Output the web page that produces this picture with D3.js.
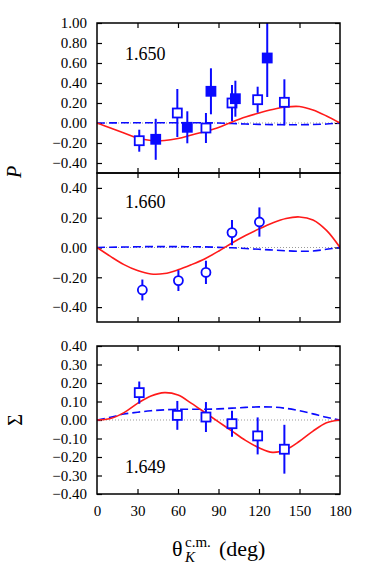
<!DOCTYPE html>
<html>
<head>
<meta charset="utf-8">
<title>P and Sigma</title>
<script src="https://cdn.jsdelivr.net/npm/d3@7"></script>
<style>
body { margin: 0; background: #fff; }
text { font-family: "Liberation Serif", "Times New Roman", Times, serif; fill: #000; }
</style>
</head>
<body>
<script>
// ---- data ----
var xTicks = [0, 30, 60, 90, 120, 150, 180];
var curveTheta = [0, 10, 20, 30, 40, 50, 60, 70, 80, 90, 100, 110, 120, 130, 140, 150, 160, 170, 180];

// top panel, P at 1.650
var topTicks = [-0.4, -0.2, 0, 0.2, 0.4, 0.6, 0.8, 1.0];
var topSolid = [0, -0.05, -0.10, -0.15, -0.175, -0.175, -0.155, -0.12, -0.085, -0.045, 0.01, 0.06, 0.10, 0.135, 0.16, 0.165, 0.13, 0.07, 0];
var topDashed = [0, 0.001, 0.002, 0.003, 0.003, 0.003, 0.003, 0.002, 0.002, 0, -0.005, -0.01, -0.014, -0.016, -0.017, -0.017, -0.015, -0.01, 0];
var topOpenTheta = [31.3, 59.5, 80.7, 100, 119, 138.8];
var topOpenVal = [-0.177, 0.10, -0.05, 0.20, 0.233, 0.207];
var topOpenErr = [0.11, 0.24, 0.15, 0.18, 0.13, 0.23];
var topFillTheta = [43.5, 66.9, 84.4, 102.5, 126.1];
var topFillVal = [-0.163, -0.043, 0.317, 0.243, 0.65];
var topFillErr = [0.205, 0.16, 0.23, 0.18, 0.39];

// middle panel, P at 1.660
var midTicks = [-0.4, -0.2, 0, 0.2, 0.4];
var midSolid = [0, -0.06, -0.115, -0.155, -0.178, -0.175, -0.15, -0.115, -0.075, -0.025, 0.03, 0.08, 0.125, 0.165, 0.195, 0.205, 0.185, 0.115, 0];
var midDashed = [0, 0.002, 0.003, 0.005, 0.006, 0.006, 0.006, 0.005, 0.004, 0.001, -0.002, -0.007, -0.012, -0.017, -0.022, -0.025, -0.024, -0.012, 0];
var midTheta = [33.6, 60.3, 80.7, 100, 120.3];
var midVal = [-0.285, -0.222, -0.167, 0.10, 0.171];
var midErr = [0.07, 0.07, 0.078, 0.085, 0.098];

// bottom panel, Sigma at 1.649
var botTicks = [-0.4, -0.3, -0.2, -0.1, 0, 0.1, 0.2, 0.3, 0.4];
var botSolid = [0, 0.008, 0.04, 0.09, 0.13, 0.148, 0.135, 0.09, 0.04, -0.01, -0.06, -0.11, -0.15, -0.175, -0.16, -0.115, -0.06, -0.015, 0];
var botDashed = [0, 0.015, 0.032, 0.042, 0.05, 0.055, 0.058, 0.058, 0.058, 0.06, 0.064, 0.068, 0.071, 0.07, 0.063, 0.05, 0.033, 0.015, 0];
var botTheta = [31.3, 59.5, 80.7, 100, 119, 138.8];
var botVal = [0.148, 0.025, 0.016, -0.02, -0.086, -0.158];
var botErr = [0.06, 0.078, 0.081, 0.07, 0.10, 0.132];

// ---- drawing ----
var w = 382, h = 565;
var blue = "#0a0aff", red = "#ff1a1a";
var serif = "'Liberation Serif', 'Times New Roman', Times, serif";
var svg = d3.select("body").append("svg").attr("width", w).attr("height", h);

var x = d3.scaleLinear().domain([0, 180]).range([97, 340]);
var fmt = d3.format(".2f");
var none = function() { return ""; };

function zip(a, b, c) {
	return a.map(function(d, i) { return {t: d, v: b[i], e: c ? c[i] : 0}; });
}

function panel(id, top, bottom, domain, ticks, label, labelY, showX) {
	var y = d3.scaleLinear().domain(domain).range([bottom, top]);
	var g = svg.append("g");

	svg.append("clipPath").attr("id", id)
		.append("rect").attr("x", x(0)).attr("y", top).attr("width", x(180) - x(0)).attr("height", bottom - top);

	var la = g.append("g").attr("transform", "translate(" + x(0) + ",0)")
		.call(d3.axisLeft(y).tickValues(ticks).tickSize(-5).tickPadding(10).tickFormat(fmt));
	var ra = g.append("g").attr("transform", "translate(" + x(180) + ",0)")
		.call(d3.axisRight(y).tickValues(ticks).tickSize(-5).tickFormat(none));
	var ta = g.append("g").attr("transform", "translate(0," + top + ")")
		.call(d3.axisTop(x).tickValues(xTicks.slice(1, -1)).tickSize(-5).tickFormat(none));
	var ba = g.append("g").attr("transform", "translate(0," + bottom + ")")
		.call(d3.axisBottom(x).tickValues(showX ? xTicks : xTicks.slice(1, -1)).tickSize(-5).tickPadding(11)
			.tickFormat(showX ? d3.format("d") : none));
	if (showX) {
		ba.selectAll(".tick line").filter(function(d) { return d == 0 || d == 180; }).remove();
	}
	[la, ra, ta, ba].forEach(function(a) {
		a.attr("font-family", null);
		a.select(".domain").remove();
		a.selectAll(".tick line").attr("stroke", "#000").attr("stroke-width", 1.2);
		a.selectAll("text").style("font-family", serif).style("font-size", "15px").attr("fill", "#000");
	});

	var plot = g.append("g").attr("clip-path", "url(#" + id + ")");
	plot.append("line")
		.attr("x1", x(0)).attr("x2", x(180)).attr("y1", y(0)).attr("y2", y(0))
		.attr("stroke", "#999").attr("stroke-width", 1).attr("stroke-dasharray", "1,2");

	g.append("rect").attr("x", x(0)).attr("y", top).attr("width", x(180) - x(0)).attr("height", bottom - top)
		.attr("fill", "none").attr("stroke", "#000").attr("stroke-width", 1.5);

	g.append("text").attr("x", 125).attr("y", labelY).style("font-family", serif).style("font-size", "18px").text(label);

	return {y: y, plot: plot};
}

function curves(p, solid, dashed) {
	var line = d3.line().x(function(d, i) { return x(curveTheta[i]); }).y(function(d) { return p.y(d); }).curve(d3.curveCatmullRom);
	p.plot.append("path").attr("d", line(dashed)).attr("fill", "none")
		.attr("stroke", blue).attr("stroke-width", 1.6).attr("stroke-dasharray", "8,4");
	p.plot.append("path").attr("d", line(solid)).attr("fill", "none")
		.attr("stroke", red).attr("stroke-width", 1.6);
}

function errbars(p, pts) {
	p.plot.selectAll(null).data(pts).enter().append("line")
		.attr("x1", function(d) { return x(d.t); }).attr("x2", function(d) { return x(d.t); })
		.attr("y1", function(d) { return p.y(d.v - d.e); }).attr("y2", function(d) { return p.y(d.v + d.e); })
		.attr("stroke", blue).attr("stroke-width", 2);
}

function squares(p, pts, filled) {
	errbars(p, pts);
	p.plot.selectAll(null).data(pts).enter().append("rect")
		.attr("x", function(d) { return x(d.t) - 4.5; }).attr("y", function(d) { return p.y(d.v) - 4.5; })
		.attr("width", 9).attr("height", 9)
		.attr("fill", filled ? blue : "#fff").attr("stroke", blue).attr("stroke-width", 1.8);
}

function circles(p, pts) {
	errbars(p, pts);
	p.plot.selectAll(null).data(pts).enter().append("circle")
		.attr("cx", function(d) { return x(d.t); }).attr("cy", function(d) { return p.y(d.v); })
		.attr("r", 4.5).attr("fill", "#fff").attr("stroke", blue).attr("stroke-width", 1.8);
}

var p1 = panel("c1", 23, 173, [-0.5, 1.0], topTicks, "1.650", 60, false);
curves(p1, topSolid, topDashed);
squares(p1, zip(topOpenTheta, topOpenVal, topOpenErr), false);
squares(p1, zip(topFillTheta, topFillVal, topFillErr), true);

var p2 = panel("c2", 173, 322, [-0.5, 0.5], midTicks, "1.660", 208, false);
curves(p2, midSolid, midDashed);
circles(p2, zip(midTheta, midVal, midErr));

var p3 = panel("c3", 346, 494, [-0.4, 0.4], botTicks, "1.649", 473, true);
curves(p3, botSolid, botDashed);
squares(p3, zip(botTheta, botVal, botErr), false);

// axis titles
svg.append("text").attr("transform", "translate(21,172) rotate(-90)")
	.attr("text-anchor", "middle").style("font-family", serif).style("font-size", "20px").style("font-style", "italic").text("P");
svg.append("text").attr("transform", "translate(22,420) rotate(-90)")
	.attr("text-anchor", "middle").style("font-family", serif).style("font-size", "20px").text("Σ");

var title = svg.append("g").style("font-family", serif);
title.append("text").attr("x", 172).attr("y", 556).style("font-size", "22px").text("θ");
title.append("text").attr("x", 185).attr("y", 562).style("font-size", "15px").style("font-style", "italic").text("K");
title.append("text").attr("x", 185).attr("y", 547).style("font-size", "15px").text("c.m.");
title.append("text").attr("x", 219).attr("y", 556).style("font-size", "22px").text("(deg)");
</script>
</body>
</html>
